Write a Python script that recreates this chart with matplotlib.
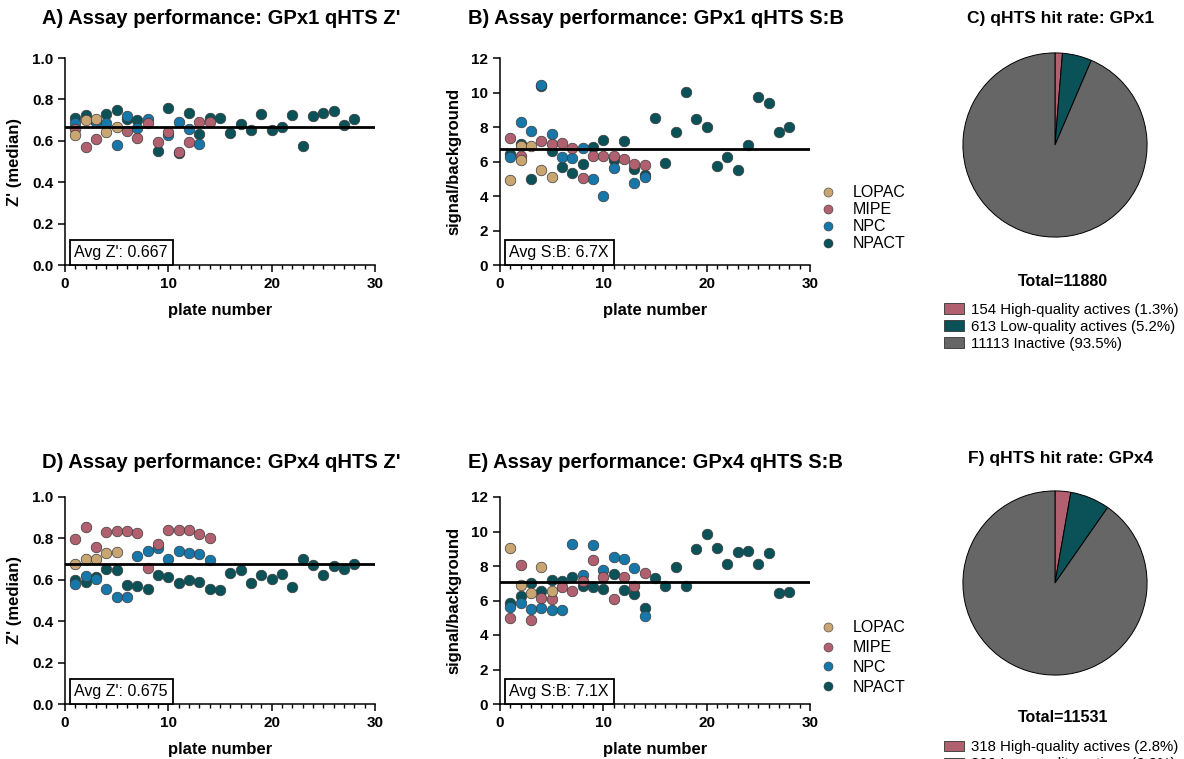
import numpy as np
import matplotlib
matplotlib.use("Agg")
import matplotlib.pyplot as plt
from matplotlib.ticker import MultipleLocator
from matplotlib.patches import Patch
from matplotlib.lines import Line2D

plt.rcParams['font.family'] = ['Liberation Sans', 'DejaVu Sans']

W, H = 1184, 759

libs = ['LOPAC', 'MIPE', 'NPC', 'NPACT']
lib_colors = {'LOPAC': '#C9A572', 'MIPE': '#B0606E', 'NPC': '#1677A8', 'NPACT': '#0B5158'}

# Panel A: GPx1 Z'
a_plates = {
    'LOPAC': [1, 2, 3, 4, 5],
    'MIPE': [1, 2, 3, 6, 7, 8, 9, 10, 11, 12, 13, 14],
    'NPC': [1, 3, 4, 5, 6, 7, 8, 10, 11, 12, 13],
    'NPACT': [1, 2, 3, 4, 5, 6, 7, 9, 10, 11, 12, 13, 14, 15, 16, 17, 18, 19, 20, 21, 22, 23, 24, 25, 26, 27, 28],
}
a_vals = {
    'LOPAC': [0.626, 0.702, 0.705, 0.643, 0.665],
    'MIPE': [0.659, 0.568, 0.607, 0.646, 0.614, 0.684, 0.594, 0.641, 0.548, 0.594, 0.692, 0.691],
    'NPC': [0.684, 0.691, 0.688, 0.578, 0.721, 0.663, 0.704, 0.626, 0.691, 0.657, 0.586],
    'NPACT': [0.709, 0.723, 0.695, 0.729, 0.749, 0.705, 0.700, 0.552, 0.760, 0.539, 0.733, 0.634, 0.712,
              0.709, 0.638, 0.681, 0.652, 0.728, 0.652, 0.668, 0.725, 0.575, 0.720, 0.733, 0.746, 0.676, 0.705],
}

# Panel B: GPx1 S:B
b_plates = {
    'LOPAC': [1, 2, 2, 3, 4, 5],
    'MIPE': [1, 2, 4, 5, 6, 7, 8, 9, 10, 11, 12, 13, 14],
    'NPC': [1, 2, 3, 4, 5, 6, 7, 8, 9, 10, 11, 13, 14],
    'NPACT': list(range(1, 29)),
}
b_vals = {
    'LOPAC': [4.95, 6.90, 6.09, 6.90, 5.51, 5.08],
    'MIPE': [7.38, 6.32, 7.17, 7.00, 7.07, 6.80, 5.02, 6.32, 6.32, 6.34, 6.13, 5.86, 5.80],
    'NPC': [6.26, 8.27, 7.77, 10.42, 7.57, 6.26, 6.20, 6.80, 5.00, 4.00, 5.60, 4.77, 5.08],
    'NPACT': [6.43, 7.01, 5.00, 10.35, 6.63, 5.66, 5.31, 5.86, 6.86, 7.25, 6.09, 7.21, 5.55, 5.22,
              8.54, 5.93, 7.71, 10.03, 8.46, 8.02, 5.76, 6.24, 5.49, 6.96, 9.74, 9.41, 7.71, 8.02],
}

# Panel D: GPx4 Z'
d_plates = {
    'LOPAC': [1, 2, 3, 4, 5],
    'MIPE': list(range(1, 15)),
    'NPC': list(range(1, 15)),
    'NPACT': list(range(1, 29)),
}
d_vals = {
    'LOPAC': [0.676, 0.700, 0.702, 0.728, 0.734],
    'MIPE': [0.797, 0.853, 0.760, 0.829, 0.836, 0.836, 0.826, 0.659, 0.773, 0.841, 0.842, 0.842, 0.823, 0.802],
    'NPC': [0.580, 0.617, 0.605, 0.556, 0.519, 0.519, 0.717, 0.741, 0.752, 0.700, 0.741, 0.731, 0.725, 0.696],
    'NPACT': [0.597, 0.591, 0.612, 0.654, 0.649, 0.575, 0.568, 0.556, 0.622, 0.614, 0.585, 0.597, 0.591, 0.557,
              0.552, 0.631, 0.647, 0.583, 0.625, 0.604, 0.626, 0.565, 0.699, 0.673, 0.625, 0.667, 0.654, 0.676],
}

# Panel E: GPx4 S:B
e_plates = d_plates
e_vals = {
    'LOPAC': [9.06, 6.92, 6.45, 7.96, 6.57],
    'MIPE': [4.97, 8.04, 4.89, 6.13, 6.07, 6.80, 6.53, 7.13, 8.35, 7.34, 6.11, 7.38, 6.84, 7.57],
    'NPC': [5.64, 5.84, 5.51, 5.55, 5.43, 5.45, 9.26, 7.48, 9.22, 7.75, 8.54, 8.41, 7.86, 5.08],
    'NPACT': [5.86, 6.28, 7.01, 6.57, 7.19, 7.13, 7.34, 6.84, 6.76, 6.65, 7.54, 6.63, 6.40, 5.57,
              7.32, 6.82, 7.92, 6.82, 8.99, 9.86, 9.04, 8.10, 8.83, 8.87, 8.12, 8.75, 6.45, 6.51],
}

avg_z1, avg_sb1 = 0.667, 6.7
avg_z4, avg_sb4 = 0.675, 7.1

# pies
pie_labels = ['High-quality actives', 'Low-quality actives', 'Inactive']
pie_colors = ['#B0606E', '#0B5158', '#666666']
gpx1_counts = [154, 613, 11113]
gpx4_counts = [318, 800, 10413]

fig = plt.figure(figsize=(W / 100, H / 100), dpi=100)


def px_axes(x0, y0, x1, y1):
    # pixel box (left, top, right, bottom) -> figure axes
    return fig.add_axes([x0 / W, 1 - y1 / H, (x1 - x0) / W, (y1 - y0) / H])


def scatter_panel(box, plates, vals, avg, ymax, ystep, ylabel, avgtext, yfmt):
    ax = px_axes(*box)
    for lib in ['NPACT', 'NPC', 'MIPE', 'LOPAC']:
        ax.scatter(plates[lib], vals[lib], s=58, color=lib_colors[lib],
                   edgecolor='#3a3a3a', linewidth=0.5, zorder=3, clip_on=False)
    ax.axhline(avg, color='black', lw=2.0, zorder=4)
    ax.set_xlim(0, 30)
    ax.set_ylim(0, ymax)
    ax.xaxis.set_major_locator(MultipleLocator(10))
    ax.xaxis.set_minor_locator(MultipleLocator(1))
    ax.yaxis.set_major_locator(MultipleLocator(ystep))
    ax.set_yticklabels([yfmt(v) for v in ax.get_yticks()])
    for s in ['top', 'right']:
        ax.spines[s].set_visible(False)
    for s in ['left', 'bottom']:
        ax.spines[s].set_linewidth(1.1)
    ax.tick_params(which='major', length=5, width=1.1, labelsize=11)
    ax.tick_params(which='minor', length=3, width=1.0)
    for lab in ax.get_xticklabels() + ax.get_yticklabels():
        lab.set_fontweight('bold')
    ax.set_xlabel('plate number', fontsize=12, fontweight='bold', labelpad=9)
    ax.set_ylabel(ylabel, fontsize=12, fontweight='bold', labelpad=7)
    ax.text(0.03, 0.04, avgtext, transform=ax.transAxes, fontsize=11.5,
            bbox=dict(boxstyle='square,pad=0.3', fc='white', ec='black', lw=1.3), zorder=5)
    return ax


fz = lambda v: f'{v:.1f}'
fi = lambda v: f'{v:.0f}'

scatter_panel((65, 58, 375, 265), a_plates, a_vals, avg_z1, 1.0, 0.2, "Z' (median)", f"Avg Z': {avg_z1:.3f}", fz)
ax_b = scatter_panel((500, 58, 810, 265), b_plates, b_vals, avg_sb1, 12, 2, 'signal/background', f'Avg S:B: {avg_sb1}X', fi)
scatter_panel((65, 497, 375, 704), d_plates, d_vals, avg_z4, 1.0, 0.2, "Z' (median)", f"Avg Z': {avg_z4:.3f}", fz)
ax_e = scatter_panel((500, 497, 810, 704), e_plates, e_vals, avg_sb4, 12, 2, 'signal/background', f'Avg S:B: {avg_sb4}X', fi)

handles = [Line2D([], [], marker='o', ls='', color=lib_colors[l], markeredgecolor='#3a3a3a',
                  markeredgewidth=0.4, markersize=6.5) for l in libs]
for ytop, spacing in [(179, 0.12), (614, 0.3)]:
    fig.legend(handles, libs, loc='upper left', bbox_to_anchor=(806 / W, 1 - ytop / H),
               frameon=False, fontsize=11.5, handletextpad=0.5, labelspacing=spacing, borderaxespad=0)

# panel titles
fig.text(42 / W, 1 - 18 / H, "A) Assay performance: GPx1 qHTS Z'", fontsize=14.5, fontweight='bold', va='center')
fig.text(468 / W, 1 - 18 / H, "B) Assay performance: GPx1 qHTS S:B", fontsize=14.5, fontweight='bold', va='center')
fig.text(42 / W, 1 - 463 / H, "D) Assay performance: GPx4 qHTS Z'", fontsize=14.5, fontweight='bold', va='center')
fig.text(468 / W, 1 - 463 / H, "E) Assay performance: GPx4 qHTS S:B", fontsize=14.5, fontweight='bold', va='center')


def pie_panel(cy, counts, title, title_y, total_y, leg_y):
    ax = px_axes(1055 - 93, cy - 93, 1055 + 93, cy + 93)
    ax.pie(counts, colors=pie_colors, startangle=90, counterclock=False, radius=1,
           wedgeprops=dict(edgecolor='black', linewidth=0.7))
    ax.set_xlim(-1.01, 1.01)
    ax.set_ylim(-1.01, 1.01)
    ax.set_aspect('equal')
    ax.axis('off')
    fig.text(1061 / W, 1 - title_y / H, title, fontsize=12.5, fontweight='bold', ha='center', va='center')
    total = sum(counts)
    fig.text(1063 / W, 1 - total_y / H, f'Total={total}', fontsize=11.5, fontweight='bold', ha='center', va='center')
    labels = [f'{c} {l} ({100 * c / total:.1f}%)' for c, l in zip(counts, pie_labels)]
    patches = [Patch(facecolor=c, edgecolor='#333333', linewidth=0.6) for c in pie_colors]
    fig.legend(patches, labels, loc='upper left', bbox_to_anchor=(938 / W, 1 - leg_y / H),
               frameon=False, fontsize=10.8, handlelength=1.3, handleheight=0.7,
               handletextpad=0.5, labelspacing=0.2, borderaxespad=0)


pie_panel(145, gpx1_counts, 'C) qHTS hit rate: GPx1', 18, 281, 297)
pie_panel(583, gpx4_counts, 'F) qHTS hit rate: GPx4', 459, 717, 734)

fig.savefig('out.png', dpi=100)
